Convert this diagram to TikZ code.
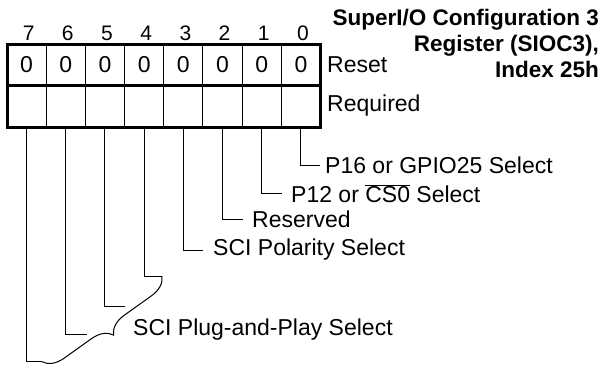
\documentclass[tikz,border=0pt]{standalone}
\usepackage{fontspec}
\setmainfont{Liberation Sans}
\usetikzlibrary{decorations.pathreplacing}
\begin{document}
\begin{tikzpicture}[x=1pt,y=-1pt,
  thin line/.style={line width=1pt},
  thick line/.style={line width=3pt},
  cellbox/.style={draw, line width=1pt, minimum width=39.1875pt, inner sep=0pt, font=\fontsize{23}{23}\selectfont},
  bitnum/.style={inner sep=0pt, anchor=base, font=\fontsize{21}{21}\selectfont},
  lbl/.style={inner sep=0pt, anchor=west, font=\fontsize{23}{23}\selectfont},
  ttl/.style={inner sep=0pt, anchor=base east, font=\fontsize{22.5}{22.5}\selectfont\bfseries}]
\useasboundingbox (0,0) rectangle (604,367);
% register cells
\foreach \b in {0,...,7} {
  \pgfmathsetmacro{\cx}{7+39.1875*(7-\b)+19.59375}
  \node[cellbox, minimum height=40.5pt] (r\b) at (\cx,64.75) {0};
  \node[cellbox, minimum height=42pt] (q\b) at (\cx,106) {};
  \node[bitnum] (n\b) at (\cx+2,40) {\b};
}
\draw[thick line] (7,44.5) rectangle (320.5,127);
\draw[thick line] (7,85) -- (320.5,85);
% row labels
\node[lbl] (reset) at (327,65) {Reset};
\node[lbl] (req) at (327,106) {Required};
% title
\node[ttl] (t1) at (599,25) {SuperI/O Configuration 3};
\node[ttl] (t2) at (599,51) {Register (SIOC3),};
\node[ttl] (t3) at (599,77) {Index 25h};
% bit field labels
\coordinate (s0) at (320,165);
\coordinate (s1) at (281.7,193.3);
\coordinate (s2) at (243.3,219.3);
\coordinate (s3) at (203.3,250);
\coordinate (s4) at (162,276);
\coordinate (s5) at (125,306);
\coordinate (s6) at (86.7,334.3);
\coordinate (s7) at (42,361.7);
\node[lbl] (l0) at (325,165) {P16 or GPIO25 Select};
\node[lbl] (l1) at (291,193.3) {P12 or $\overline{\mbox{CS0}}$ Select};
\node[lbl] (l2) at (252,219.3) {Reserved};
\node[lbl] (l3) at (213,250) {SCI Polarity Select};
\node[lbl] (l4) at (133,330) {SCI Plug-and-Play Select};
\foreach \b in {0,...,7} {
  \draw[thin line] (q\b.south) |- (s\b);
}
\draw[thin line, decorate, decoration={brace, amplitude=20pt}] (s4) -- (s7);
\end{tikzpicture}
\end{document}
